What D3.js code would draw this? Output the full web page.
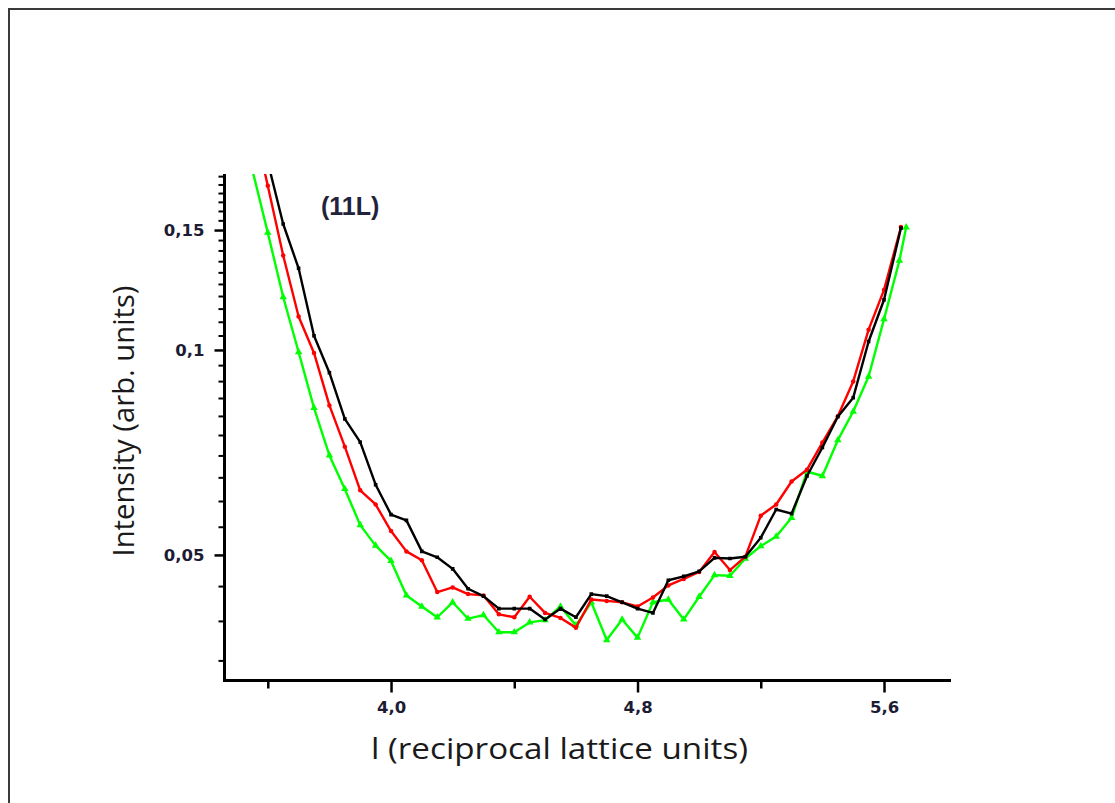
<!DOCTYPE html>
<html>
<head>
<meta charset="utf-8">
<script src="https://cdn.jsdelivr.net/npm/d3@7"></script>
<style>
  html, body { margin: 0; padding: 0; background: #ffffff; }
  svg { display: block; }
</style>
</head>
<body>
<svg id="chart" width="1115" height="803"></svg>
<script>
// ---- data ----
const lBlackRed = [3.55,3.60,3.65,3.70,3.75,3.80,3.85,3.90,3.95,4.00,4.05,4.10,4.15,4.20,4.25,4.30,4.35,4.40,4.45,4.50,4.55,4.60,4.65,4.70,4.75,4.80,4.85,4.90,4.95,5.00,5.05,5.10,5.15,5.20,5.25,5.30,5.35,5.40,5.45,5.50,5.55,5.60,5.655];
const blackValues = [0.2327,0.1888,0.1531,0.1318,0.1049,0.0926,0.0792,0.0732,0.0634,0.0573,0.0562,0.0506,0.0496,0.0477,0.0446,0.0435,0.0417,0.0417,0.0417,0.0402,0.0417,0.0405,0.0438,0.0435,0.0426,0.0417,0.0411,0.0459,0.0465,0.0473,0.0495,0.0494,0.0497,0.0530,0.0583,0.0575,0.0653,0.0719,0.0798,0.0851,0.1029,0.1185,0.1510];
const redValues = [0.2190,0.1743,0.1376,0.1120,0.0990,0.0829,0.0721,0.0622,0.0593,0.0542,0.0506,0.0491,0.0441,0.0448,0.0438,0.0436,0.0409,0.0405,0.0434,0.0411,0.0404,0.0391,0.0430,0.0428,0.0426,0.0420,0.0433,0.0451,0.0461,0.0472,0.0505,0.0475,0.0497,0.0571,0.0593,0.0641,0.0667,0.0731,0.0799,0.0899,0.1071,0.1225,0.1515];
const lGreen = [3.50,3.55,3.60,3.65,3.70,3.75,3.80,3.85,3.90,3.95,4.00,4.05,4.10,4.15,4.20,4.25,4.30,4.35,4.40,4.45,4.50,4.55,4.60,4.65,4.70,4.75,4.80,4.85,4.90,4.95,5.00,5.05,5.10,5.15,5.20,5.25,5.30,5.35,5.40,5.45,5.50,5.55,5.60,5.65,5.672];
const greenValues = [0.2250,0.1838,0.1487,0.1196,0.0993,0.0822,0.0700,0.0625,0.0553,0.0516,0.0490,0.0436,0.0420,0.0405,0.0426,0.0403,0.0408,0.0385,0.0385,0.0398,0.0401,0.0420,0.0394,0.0426,0.0375,0.0402,0.0378,0.0426,0.0430,0.0402,0.0434,0.0467,0.0466,0.0494,0.0515,0.0532,0.0567,0.0663,0.0653,0.0737,0.0812,0.0914,0.1110,0.1353,0.1514];

const xMajorTicks = [4.0, 4.8, 5.6];
const xMajorLabels = ["4,0", "4,8", "5,6"];
const xMinorTicks = [3.6, 4.4, 5.2];
const yMajorTicks = [0.05, 0.1, 0.15];
const yMajorLabels = ["0,05", "0,1", "0,15"];
const yMinorTicks = [0.035,0.04,0.045,0.055,0.06,0.065,0.07,0.075,0.08,0.085,0.09,0.095,0.105,0.11,0.115,0.12,0.125,0.13,0.135,0.14,0.145,0.155,0.16,0.165,0.17,0.175,0.18];
const xDomain = [3.4595, 5.8174];
const yDomain = [0.0327, 0.1813];

const annotation = "(11L)";
const xTitle = "l (reciprocal lattice units)";
const yTitle = "Intensity (arb. units)";

// ---- layout ----
const svg = d3.select("#chart");
const plot = { left: 224.5, right: 951, top: 174, bottom: 680.5 };

const x = d3.scaleLinear().domain(xDomain).range([plot.left, plot.right]);
const y = d3.scaleLog().domain(yDomain).range([plot.bottom, plot.top]);

// frame (only top & left edges are visible in the reference)
svg.append("path")
  .attr("d", "M9,803 V9 H1115")
  .attr("fill", "none").attr("stroke", "#3a3a3a").attr("stroke-width", 2);

svg.append("defs").append("clipPath").attr("id", "clip")
  .append("rect")
  .attr("x", plot.left).attr("y", plot.top)
  .attr("width", plot.right - plot.left).attr("height", plot.bottom - plot.top);

const tickColor = "#000";
const labelColor = "#1c1c33";

// minor ticks
svg.append("g").attr("transform", `translate(0,${plot.bottom})`)
  .call(d3.axisBottom(x).tickValues(xMinorTicks).tickSize(8).tickSizeOuter(0).tickFormat(""))
  .call(g => g.select(".domain").remove())
  .call(g => g.selectAll("line").attr("stroke", tickColor).attr("stroke-width", 2.5));
svg.append("g").attr("transform", `translate(${plot.left},0)`)
  .call(d3.axisLeft(y).tickValues(yMinorTicks).tickSize(6).tickSizeOuter(0).tickFormat(""))
  .call(g => g.select(".domain").remove())
  .call(g => g.selectAll("line").attr("stroke", tickColor).attr("stroke-width", 2));

// major x axis
const xAxis = svg.append("g").attr("transform", `translate(0,${plot.bottom})`)
  .call(d3.axisBottom(x).tickValues(xMajorTicks).tickSize(12).tickSizeOuter(0).tickPadding(9)
    .tickFormat((d, i) => xMajorLabels[i]));
xAxis.select(".domain").attr("stroke", tickColor).attr("stroke-width", 3)
  .attr("d", `M${plot.left - 1.5},0H${plot.right}`);
xAxis.selectAll("line").attr("stroke", tickColor).attr("stroke-width", 2.5);
xAxis.selectAll("text")
  .attr("font-family", "'DejaVu Sans', sans-serif").attr("font-weight", "bold")
  .attr("font-size", 16.5).attr("fill", labelColor);

// major y axis
const yAxis = svg.append("g").attr("transform", `translate(${plot.left},0)`)
  .call(d3.axisLeft(y).tickValues(yMajorTicks).tickSize(10).tickSizeOuter(0).tickPadding(10)
    .tickFormat((d, i) => yMajorLabels[i]));
yAxis.select(".domain").attr("stroke", tickColor).attr("stroke-width", 3)
  .attr("d", `M0,${plot.top}V${plot.bottom + 1.5}`);
yAxis.selectAll("line").attr("stroke", tickColor).attr("stroke-width", 2.5);
yAxis.selectAll("text")
  .attr("font-family", "'DejaVu Sans', sans-serif").attr("font-weight", "bold")
  .attr("font-size", 16.5).attr("fill", labelColor);

// series
const series = [
  { name: "green", l: lGreen, v: greenValues, color: "#00ff00", marker: d3.symbolTriangle, size: 24 },
  { name: "red", l: lBlackRed, v: redValues, color: "#ff0000", marker: d3.symbolCircle, size: 16 },
  { name: "black", l: lBlackRed, v: blackValues, color: "#000000", marker: d3.symbolSquare, size: 13 }
];

const line = d3.line().x(d => x(d[0])).y(d => y(d[1]));
const dataLayer = svg.append("g").attr("clip-path", "url(#clip)");

series.forEach(s => {
  const pts = s.l.map((l, i) => [l, s.v[i]]);
  const g = dataLayer.append("g").attr("class", "series-" + s.name);
  g.append("path").datum(pts)
    .attr("d", line).attr("fill", "none")
    .attr("stroke", s.color).attr("stroke-width", 2.4).attr("stroke-linejoin", "round");
  g.selectAll("path.marker").data(pts).join("path")
    .attr("class", "marker")
    .attr("d", d3.symbol().type(s.marker).size(s.size))
    .attr("transform", d => `translate(${x(d[0])},${y(d[1])})`)
    .attr("fill", s.color);
});

// annotation
svg.append("text")
  .attr("x", 321).attr("y", 215)
  .attr("font-family", "'Liberation Sans', Arial, sans-serif").attr("font-weight", "bold")
  .attr("font-size", 25).attr("fill", "#22223a")
  .text(annotation);

// axis titles
svg.append("text")
  .attr("x", 559.5).attr("y", 759)
  .attr("text-anchor", "middle")
  .attr("font-family", "'Open Sans', sans-serif").attr("font-size", 29)
  .attr("textLength", 377).attr("lengthAdjust", "spacingAndGlyphs")
  .attr("fill", "#1a1a1a")
  .text(xTitle);

svg.append("text")
  .attr("transform", "translate(134,421) rotate(-90)")
  .attr("text-anchor", "middle")
  .attr("font-family", "'Open Sans', sans-serif").attr("font-size", 29)
  .attr("textLength", 271).attr("lengthAdjust", "spacingAndGlyphs")
  .attr("fill", "#1a1a1a")
  .text(yTitle);
</script>
</body>
</html>
